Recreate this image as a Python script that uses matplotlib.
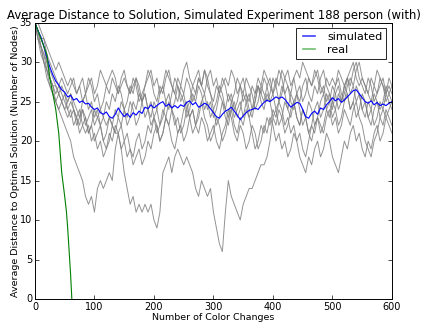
import matplotlib
matplotlib.use("Agg")
import matplotlib.pyplot as plt
import numpy as np

plt.style.use("classic")

title = "Average Distance to Solution, Simulated Experiment 188 person (with)"
xlabel = "Number of Color Changes"
ylabel = "Average Distance to Optimal Solution (Number of Nodes)"
series_names = ["simulated", "real"]

step = 5
x_gray = list(range(0, 601, step))

gray_1 = [35,34,32,31,29,28,27,25,24,23, 22,21,20,18,17,16,15,13,12,13,
          11,14,15,14,15,16,15,19,21,22, 24,23,25,24,22,23,25,26,24,25,
          23,24,26,27,25,24,26,28,27,25, 26,24,25,27,26,28,27,29,27,26,
          24,25,27,26,24,23,25,26,28,27, 25,26,24,23,25,27,26,25,27,28,
          26,27,29,28,26,27,25,24,26,27, 25,26,28,27,29,28,26,27,25,26,
          24,26,27,25,26,28,27,29,30,28, 27,26,28,27,25,26,27,28,26,27, 26]
gray_2 = [35,33,32,30,29,28,27,26,27,26, 25,24,25,24,23,22,24,22,23,24,
          22,23,24,23,22,23,22,21,21,19, 16,14,12,13,11,12,11,12,11,12,
          10,9,11,16,17,18,16,18,19,18, 17,18,17,16,14,13,15,14,13,14,
          11,9,7,6,11,15,13,12,11,10, 12,13,14,14,15,16,17,17,18,20,
          23,22,24,23,21,22,24,25,23,22, 24,23,21,22,24,25,23,24,26,25,
          23,24,26,25,27,26,24,25,27,26, 24,23,25,24,22,23,25,24,23,24, 25]
gray_3 = [35,34,33,32,30,29,28,27,26,27, 26,25,26,24,23,24,22,21,22,20,
          21,19,20,18,19,20,22,21,23,22, 20,21,19,18,20,21,19,20,22,21,
          23,22,20,21,23,22,20,19,21,22, 20,21,23,24,22,21,23,22,20,21,
          22,20,19,21,22,24,23,21,20,22, 21,19,20,22,21,19,20,22,21,23,
          22,20,21,19,20,18,19,21,20,18, 17,16,18,17,19,20,18,19,21,20,
          18,17,16,18,20,19,21,22,20,21, 19,18,20,19,21,22,20,21,23,22, 21]
gray_4 = [35,34,33,33,32,31,30,29,30,29, 28,27,28,27,26,27,28,26,27,28,
          26,27,29,28,27,28,29,28,26,27, 28,27,26,27,28,26,25,27,28,29,
          27,28,26,27,29,28,27,26,28,27, 29,30,28,27,28,29,27,26,28,29,
          27,28,26,27,28,27,29,28,26,27, 28,26,25,27,26,28,27,29,28,27,
          26,28,27,29,28,27,26,28,29,28, 30,29,28,27,28,29,27,26,28,27,
          28,27,29,28,27,28,29,30,28,27, 28,27,26,28,27,29,28,27,26,28, 27]
gray_5 = [35,33,31,30,29,27,26,25,26,25, 24,25,26,25,24,23,25,26,24,25,
          23,24,22,23,25,24,26,25,27,26, 24,25,27,26,28,27,25,26,24,23,
          25,24,22,23,25,26,24,25,27,26, 25,23,24,26,25,27,26,24,25,23,
          24,22,23,25,24,26,25,23,24,25, 23,25,26,24,25,27,26,28,27,25,
          26,24,25,27,26,24,23,25,26,24, 22,23,25,24,22,23,25,26,24,25,
          27,26,24,25,27,28,26,27,25,26, 24,25,23,24,26,25,24,25,27,26, 25]
gray_6 = [35,34,32,31,30,28,27,27,26,25, 26,24,23,24,22,23,24,23,21,22,
          24,23,22,20,21,23,22,24,23,25, 24,22,23,25,24,26,25,23,24,22,
          23,21,22,24,23,25,24,22,23,21, 22,24,23,21,22,24,25,23,22,20,
          21,23,22,20,21,23,24,22,21,23, 22,24,23,21,19,20,22,21,23,22,
          24,23,25,24,22,23,21,22,20,21, 19,18,20,22,21,23,22,21,23,24,
          22,23,21,22,24,23,22,24,25,23, 22,20,19,18,20,21,23,22,24,23, 22]
gray_7 = [35,35,34,33,31,30,29,28,27,28, 27,26,27,28,26,27,25,26,28,27,
          25,26,24,25,27,26,28,27,26,28, 29,27,26,28,27,25,26,27,29,28,
          26,25,27,26,28,29,27,26,25,27, 26,28,27,25,26,28,27,29,28,26,
          25,27,26,28,27,25,26,24,25,27, 26,28,27,26,24,25,27,26,25,26,
          28,27,25,26,28,29,27,28,26,25, 27,28,26,25,27,26,28,29,27,26,
          25,27,28,26,25,27,28,27,29,30, 28,27,26,25,27,26,28,27,25,26, 27]
gray_8 = [35,33,32,30,28,27,26,25,24,25, 24,23,24,22,23,21,22,23,21,22,
          20,21,22,20,19,21,20,22,21,19, 20,18,19,17,18,19,17,18,20,19,
          21,22,20,21,23,22,24,23,21,22, 24,25,23,24,22,23,25,26,24,25,
          23,24,26,25,23,22,24,25,23,24, 26,25,23,24,26,27,25,24,26,25,
          23,24,22,23,25,24,26,25,23,22, 24,23,21,20,22,23,21,22,24,23,
          25,24,22,23,25,26,24,25,23,24, 26,25,23,22,24,25,23,24,26,25, 24]
gray_traces = [gray_1, gray_2, gray_3, gray_4, gray_5, gray_6, gray_7, gray_8]

simulated = [35.0,34.0,33.2,32.0,30.6,29.4,28.4,27.6,27.1,26.5,
             26.2,25.6,25.8,25.2,25.4,24.9,25.1,24.7,24.8,24.3,
             24.0,24.2,23.6,23.4,23.7,23.1,22.9,23.4,24.2,23.6,
             23.1,23.5,23.0,23.6,23.3,23.8,23.5,24.3,24.1,24.6,
             24.2,24.5,24.8,25.0,24.4,24.7,24.2,24.5,24.2,24.6,
             24.4,24.9,25.1,24.6,24.9,24.3,24.5,24.8,24.6,24.1,
             23.6,23.1,22.9,23.4,23.8,24.0,24.3,23.8,23.3,22.7,
             23.2,23.6,23.9,24.0,24.2,24.0,24.5,24.9,25.2,25.0,
             25.3,25.6,25.4,25.6,25.3,24.8,24.3,24.6,24.9,24.8,
             24.0,23.1,22.9,23.5,23.8,23.4,24.2,24.0,24.6,25.0,
             25.5,25.1,25.4,24.9,25.2,25.6,26.0,26.4,26.5,26.0,
             25.5,25.0,24.8,25.1,24.6,24.9,24.5,24.7,24.5,24.8,
             25.0]

x_real = [0, 5, 10, 15, 20, 25, 30, 35, 40, 42, 45, 50, 53, 55, 60, 62]
real = [35, 34, 33, 32, 31, 28, 26, 24, 21, 19, 16, 13, 11, 9, 3, 0]

fig = plt.figure(figsize=(4.21, 3.27), dpi=100, facecolor="white")
ax = fig.add_axes([0.083, 0.0856, 0.848, 0.845])

for tr in gray_traces:
    ax.plot(x_gray, tr, color="0.5", lw=0.7, alpha=0.85)
ax.plot(x_gray, simulated, color="b", lw=0.8, label=series_names[0])
ax.plot(x_real, real, color="g", lw=0.8, label=series_names[1])

ax.set_xlim(0, 600)
ax.set_ylim(0, 35)
ax.set_xticks(range(0, 601, 100))
ax.set_yticks(range(0, 36, 5))
ax.tick_params(labelsize=7, length=3, width=0.5, pad=2)
for s in ax.spines.values():
    s.set_linewidth(0.7)
ax.set_title(title, fontsize=8.4, pad=2.5)
ax.set_xlabel(xlabel, fontsize=6.8, labelpad=1)
ax.set_ylabel(ylabel, fontsize=6.8, labelpad=0)
leg = ax.legend(loc="upper right", fontsize=8, handlelength=1.7,
                handletextpad=0.8, borderpad=0.35, labelspacing=0.25,
                fancybox=False)
leg.get_frame().set_linewidth(0.6)
for ln, col in zip(leg.get_lines(), ["#4040ff", "#70c070"]):
    ln.set_color(col)
    ln.set_linewidth(1.2)

fig.savefig("out.png", dpi=100, facecolor="white")
